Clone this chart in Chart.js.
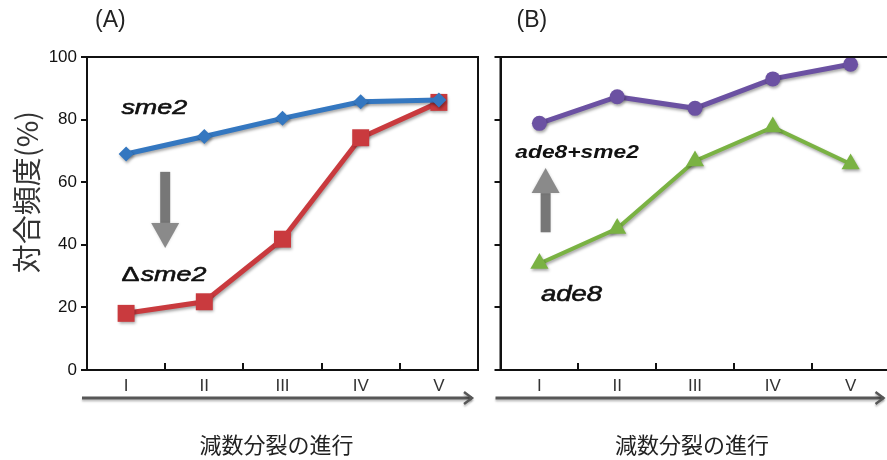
<!DOCTYPE html>
<html><head><meta charset="utf-8">
<script src="https://cdn.jsdelivr.net/npm/chart.js@4.4.0/dist/chart.umd.min.js"></script>
<style>
html,body{margin:0;padding:0;background:#fff;overflow:hidden;width:887px;height:460px;}
#wa{position:absolute;left:0;top:0;width:490px;height:460px;}
#wb{position:absolute;left:490px;top:0;width:410px;height:460px;}
</style></head><body>
<div id="wa"><canvas id="ca"></canvas></div>
<div id="wb"><canvas id="cb"></canvas></div>
<script>
// ---- data ----
const stages = ['I', 'II', 'III', 'IV', 'V'];
const yTickValues = [0, 20, 40, 60, 80, 100];
const sme2 = [69.0, 74.6, 80.4, 85.7, 86.3];
const dsme2 = [18.1, 21.8, 41.8, 74.2, 85.5];
const ade8sme2 = [78.8, 87.3, 83.6, 93.0, 97.7];
const ade8 = [34.0, 45.2, 66.8, 77.6, 65.8];
const panelLabels = ['(A)', '(B)'];
const yTitle = '対合頻度(%)';
const xTitle = '減数分裂の進行';
const seriesNamesA = ['sme2', 'Δsme2'];
const seriesNamesB = ['ade8+sme2', 'ade8'];

Chart.defaults.font.family = '"Liberation Sans", Arial, sans-serif';

const decoPlugin = {
  id: 'deco',
  beforeDatasetsDraw(chart) {
    const ctx = chart.ctx;
    ctx.save();
    ctx.shadowColor = 'rgba(0,0,0,0.35)';
    ctx.shadowBlur = 3;
    ctx.shadowOffsetX = 1;
    ctx.shadowOffsetY = 2;
  },
  afterDatasetsDraw(chart) { chart.ctx.restore(); },
  afterDraw(chart, args, o) {
    const ctx = chart.ctx, a = chart.chartArea;
    const xs = chart.scales.x, ys = chart.scales.y;
    ctx.save();
    // frame
    ctx.strokeStyle = '#111'; ctx.lineWidth = 2;
    ctx.strokeRect(a.left, a.top, a.right - a.left, a.bottom - a.top);
    // inward x ticks at category boundaries
    ctx.beginPath();
    for (let i = 1; i < stages.length; i++) {
      const px = Math.round((xs.getPixelForValue(i - 1) + xs.getPixelForValue(i)) / 2);
      ctx.moveTo(px, a.bottom); ctx.lineTo(px, a.bottom - 7);
    }
    ctx.stroke();
    // progress arrow under axis
    const ay = a.bottom + 28, ax0 = a.left - 5, ax1 = a.right - 6;
    ctx.save();
    ctx.shadowColor = 'rgba(0,0,0,0.25)'; ctx.shadowBlur = 2; ctx.shadowOffsetY = 2;
    ctx.strokeStyle = '#575757'; ctx.lineWidth = 3;
    ctx.beginPath(); ctx.moveTo(ax0, ay); ctx.lineTo(ax1, ay); ctx.stroke();
    ctx.lineWidth = 2.5;
    ctx.beginPath(); ctx.moveTo(ax1 - 8, ay - 6); ctx.lineTo(ax1, ay); ctx.lineTo(ax1 - 8, ay + 6); ctx.stroke();
    ctx.restore();
    // panel label
    ctx.fillStyle = '#222';
    ctx.font = '23px "Liberation Sans", Arial, sans-serif';
    ctx.textAlign = 'left'; ctx.textBaseline = 'middle';
    ctx.fillText(o.panel, a.left + o.panelDx, 21);
    // x title
    ctx.font = '22px "Noto Sans CJK JP", sans-serif';
    ctx.textAlign = 'center';
    ctx.fillText(xTitle, (a.left + a.right) / 2 + o.xTitleDx, 445);
    // y title
    if (o.yTitle) {
      ctx.save();
      ctx.translate(27, 192);
      ctx.rotate(-Math.PI / 2);
      ctx.font = '29px "Noto Sans CJK JP", sans-serif';
      ctx.fillStyle = '#333';
      ctx.fillText(yTitle, 0, 0);
      ctx.restore();
    }
    // gray arrows
    for (const ar of o.arrows) {
      const px = xs.getPixelForValue(ar.x);
      const p0 = ys.getPixelForValue(ar.y0), p1 = ys.getPixelForValue(ar.y1);
      const dir = Math.sign(p1 - p0), hl = 25, hh = 14, sh = 5;
      const base = p1 - dir * hl;
      ctx.save();
      ctx.shadowColor = 'rgba(0,0,0,0.15)'; ctx.shadowBlur = 3;
      ctx.fillStyle = '#777';
      ctx.fillRect(px - sh, Math.min(p0, base), sh * 2, Math.abs(base - p0));
      ctx.fillStyle = '#8a8a8a';
      ctx.beginPath(); ctx.moveTo(px - hh, base); ctx.lineTo(px + hh, base); ctx.lineTo(px, p1); ctx.closePath(); ctx.fill();
      ctx.restore();
    }
    // annotation texts
    ctx.fillStyle = '#111'; ctx.strokeStyle = '#111';
    ctx.textAlign = 'left'; ctx.textBaseline = 'middle';
    for (const t of o.texts) {
      ctx.save();
      ctx.translate(xs.getPixelForValue(t.x), ys.getPixelForValue(t.y));
      ctx.scale(t.sx, 1);
      let x = 0;
      if (t.prefix) {
        ctx.font = t.prefixFont;
        ctx.fillText(t.prefix, 0, 0);
        ctx.lineWidth = 0.6; ctx.strokeText(t.prefix, 0, 0);
        x = ctx.measureText(t.prefix).width + 1;
      }
      ctx.font = t.font;
      ctx.fillText(t.t, x, 0);
      if (t.stroke) { ctx.lineWidth = t.stroke; ctx.strokeText(t.t, x, 0); }
      ctx.restore();
    }
    ctx.restore();
  }
};

function ds(data, color, style, radius, width) {
  return {
    data, borderColor: color, backgroundColor: color, borderWidth: width,
    pointStyle: style, pointRadius: radius, pointHoverRadius: radius,
    pointBorderWidth: 0, pointBackgroundColor: color, tension: 0
  };
}

function makeChart(id, cfg) {
  return new Chart(document.getElementById(id), {
    type: 'line',
    data: { labels: stages, datasets: cfg.datasets },
    options: {
      responsive: true, maintainAspectRatio: false, animation: false,
      layout: { padding: { top: 57, right: 8, left: 0, bottom: 0 } },
      plugins: { legend: { display: false }, tooltip: { enabled: false }, deco: cfg.deco },
      scales: {
        x: {
          offset: true,
          grid: { display: false, drawTicks: false },
          border: { display: false },
          ticks: { color: '#333', font: { size: 17 }, padding: 6 },
          afterFit(s) { s.height = 90; }
        },
        y: {
          min: 0, max: 100,
          afterBuildTicks(s) { s.ticks = yTickValues.map(v => ({ value: v })); },
          grid: { drawOnChartArea: false, drawTicks: true, tickLength: 6, color: '#111', lineWidth: 2 },
          border: { display: true, color: '#111', width: 2 },
          ticks: { display: cfg.yLabels, color: '#111', font: { size: 17 }, padding: 4 },
          afterFit(s) { s.width = cfg.yWidth; }
        }
      }
    },
    plugins: [decoPlugin]
  });
}

const italicFont = 'italic 21px "Liberation Sans", Arial, sans-serif';

makeChart('ca', {
  yLabels: true, yWidth: 87,
  datasets: [
    ds(sme2, '#3477c0', 'rectRot', 7.5, 5),
    ds(dsme2, '#c93a3e', 'rect', 12, 5)
  ],
  deco: {
    panel: panelLabels[0], panelDx: 8, xTitleDx: -6, yTitle: true,
    arrows: [{ x: 0.5, y0: 63.3, y1: 39 }],
    texts: [
      { t: seriesNamesA[0], x: -0.06, y: 83.7, font: italicFont, sx: 1.28, stroke: 0.6 },
      { t: seriesNamesA[1].slice(1), prefix: seriesNamesA[1].slice(0, 1), prefixFont: '21px "Liberation Sans", Arial, sans-serif',
        x: -0.06, y: 30.4, font: italicFont, sx: 1.28, stroke: 0.6 }
    ]
  }
});

makeChart('cb', {
  yLabels: false, yWidth: 7,
  datasets: [
    ds(ade8sme2, '#6b51a2', 'circle', 7.5, 5),
    ds(ade8, '#7ab243', 'triangle', 10.5, 4)
  ],
  deco: {
    panel: panelLabels[1], panelDx: 16, xTitleDx: -3, yTitle: false,
    arrows: [{ x: 0.08, y0: 44, y1: 64.5 }],
    texts: [
      { t: seriesNamesB[0], x: -0.31, y: 69.3, font: 'italic bold 19px "Liberation Sans", Arial, sans-serif', sx: 1.2 },
      { t: seriesNamesB[1], x: 0.02, y: 24, font: 'italic 22px "Liberation Sans", Arial, sans-serif', sx: 1.25, stroke: 0.6 }
    ]
  }
});
</script>
</body></html>
